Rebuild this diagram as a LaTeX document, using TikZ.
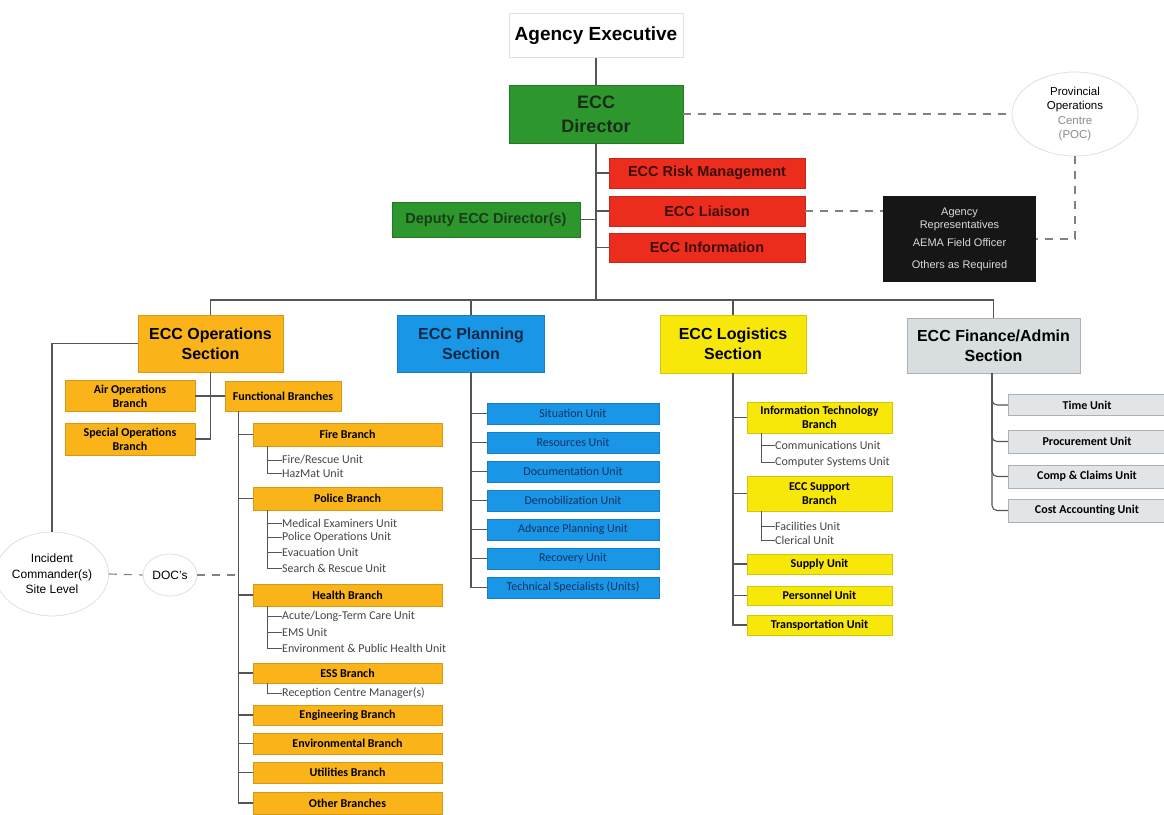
\documentclass[tikz,border=0pt]{standalone}
\usepackage{fontspec}
\setmainfont{Liberation Sans}
\newfontfamily\calfont{Carlito}
\usetikzlibrary{shapes.geometric}
\definecolor{cgreen}{RGB}{45,150,45}
\definecolor{cred}{RGB}{236,45,30}
\definecolor{corange}{RGB}{250,180,25}
\definecolor{cblue}{RGB}{25,150,230}
\definecolor{cyellow}{RGB}{248,232,10}
\definecolor{cgray}{RGB}{216,221,224}
\definecolor{cgraylt}{RGB}{226,229,231}
\definecolor{cblack}{RGB}{22,22,22}
\definecolor{linegray}{RGB}{85,85,85}
\definecolor{subtext}{RGB}{70,70,70}
\definecolor{navy}{RGB}{20,50,100}
\newcommand\fsz[2]{\fontsize{#1}{#2}\selectfont}
\begin{document}
\begin{tikzpicture}[x=1pt,y=-1pt,
  box/.style={rectangle,inner sep=0pt,align=center,text=black},
  ogbox/.style={box,fill=corange,draw=corange!85!black,line width=0.4pt,font=\calfont\bfseries\fsz{12}{14}},
  bluebox/.style={box,fill=cblue,draw=cblue!85!black,line width=0.4pt,text=navy,font=\calfont\fsz{12}{14}},
  ylbox/.style={box,fill=cyellow,draw=cyellow!85!black,line width=0.4pt,font=\calfont\bfseries\fsz{12}{14}},
  gybox/.style={box,fill=cgraylt,draw=cgray!80!black,line width=0.4pt,font=\calfont\bfseries\fsz{12}{14}},
  subitem/.style={anchor=west,inner sep=0pt,text=subtext,font=\calfont\fsz{12}{14}},
  conn/.style={draw=linegray,line width=1.1pt},
  dashconn/.style={draw=gray,line width=1.1pt,dash pattern=on 8pt off 7pt},
  bubble/.style={ellipse,draw=black!12,line width=0.8pt,inner sep=0pt,align=center,font=\fsz{11.5}{14.5}}
]
\useasboundingbox (0,0) rectangle (1164,814);
\fill[white] (0,0) rectangle (1164,814);

% top
\node[box,draw=black!12,fill=white,minimum width=174pt,minimum height=44pt,font=\bfseries\fsz{19}{22}] (ae) at (596,35.5) {Agency Executive};
\node[box,fill=cgreen,draw=cgreen!80!black,minimum width=174pt,minimum height=58pt,text={rgb,255:red,25;green,45;blue,25},font=\bfseries\fsz{18}{24}] (dir) at (596,114) {ECC\\Director};
\node[box,fill=cred,draw=cred!85!black,minimum width=196pt,minimum height=30pt,text={rgb,255:red,60;green,15;blue,10},font=\bfseries\fsz{14.5}{16}] (risk) at (707,173) {ECC Risk Management};
\node[box,fill=cred,draw=cred!85!black,minimum width=196pt,minimum height=30pt,text={rgb,255:red,60;green,15;blue,10},font=\bfseries\fsz{14.5}{16}] (liaison) at (707,211) {ECC Liaison};
\node[box,fill=cred,draw=cred!85!black,minimum width=196pt,minimum height=29pt,text={rgb,255:red,60;green,15;blue,10},font=\bfseries\fsz{14.5}{16}] (info) at (707,247.5) {ECC Information};
\node[box,fill=cgreen,draw=cgreen!80!black,minimum width=188pt,minimum height=35pt,text={rgb,255:red,25;green,60;blue,25},font=\bfseries\fsz{14.5}{16}] (deputy) at (486,219.5) {Deputy ECC Director(s)};
\node[bubble,minimum width=126pt,minimum height=84pt] (poc) at (1075,114) {Provincial\\Operations\\\textcolor{black!45}{Centre}\\\textcolor{black!45}{(POC)}};
\node[box,fill=cblack,minimum width=153pt,minimum height=86pt,text=black!15,font=\fsz{11}{13}] (black) at (959.5,239) {Agency\\Representatives\\[5pt]AEMA Field Officer\\[9pt]Others as Required};

\draw[conn] (ae.south) -- (dir.north);
\coordinate (barc) at (596,300);
\draw[conn] (dir.south) -- (barc);
\draw[conn] (risk.west) -- (risk.west -| dir.south);
\draw[conn] (liaison.west) -- (liaison.west -| dir.south);
\draw[conn] (info.west) -- (info.west -| dir.south);
\draw[conn] (deputy.east) -- (deputy.east -| dir.south);
\draw[dashconn] (dir.east) -- (poc.west);
\draw[dashconn] (poc.south) |- (black.east);
\draw[dashconn] (liaison.east) -- (liaison.east -| black.west);

% sections
\node[box,fill=corange,draw=corange!85!black,minimum width=145pt,minimum height=57pt,font=\bfseries\fsz{16}{20}] (ops) at (210.5,343.5) {ECC Operations\\Section};
\node[box,fill=cblue,draw=cblue!85!black,minimum width=147pt,minimum height=57pt,text={rgb,255:red,15;green,40;blue,70},font=\bfseries\fsz{16}{20}] (plan) at (471,343.5) {ECC Planning\\Section};
\node[box,fill=cyellow,draw=cyellow!85!black,minimum width=146pt,minimum height=58pt,font=\bfseries\fsz{16}{20}] (log) at (733,344) {ECC Logistics\\Section};
\node[box,fill=cgray,draw=cgray!80!black,minimum width=173pt,minimum height=55pt,font=\bfseries\fsz{16}{20}] (fin) at (993.5,345.5) {ECC Finance/Admin\\Section};
\draw[conn] (ops.north) |- (barc) -| (fin.north);
\draw[conn] (plan.north) -- (plan.north |- barc);
\draw[conn] (log.north) -- (log.north |- barc);

% operations
\node[ogbox,minimum width=130pt,minimum height=31pt] (air) at (130,396) {Air Operations\\Branch};
\node[ogbox,minimum width=130pt,minimum height=32pt] (special) at (130,439) {Special Operations\\Branch};
\node[ogbox,minimum width=116pt,minimum height=30pt] (func) at (283,396) {Functional Branches};
\draw[conn] (ops.south) |- (special.east);
\draw[conn] (air.east) -- (func.west);
\node[bubble,minimum width=104pt,minimum height=84pt,font=\fsz{12}{15.5}] (ic) at (52,574) {Incident\\Commander(s)\\Site Level};
\node[bubble,minimum width=54pt,minimum height=42pt,font=\fsz{12}{14}] (doc) at (170,575) {DOC's};
\draw[conn] (ops.west) -| (ic.north);

\node[ogbox,minimum width=189pt,minimum height=23pt] (fire) at (347.5,434.5) {Fire Branch};
\node[ogbox,minimum width=189pt,minimum height=23pt] (police) at (347.5,498.5) {Police Branch};
\node[ogbox,minimum width=189pt,minimum height=22pt] (health) at (347.5,595) {Health Branch};
\node[ogbox,minimum width=189pt,minimum height=20pt] (ess) at (347.5,673) {ESS Branch};
\node[ogbox,minimum width=189pt,minimum height=20pt] (eng) at (347.5,715) {Engineering Branch};
\node[ogbox,minimum width=189pt,minimum height=21pt] (envb) at (347.5,743.5) {Environmental Branch};
\node[ogbox,minimum width=189pt,minimum height=21pt] (util) at (347.5,772.5) {Utilities Branch};
\node[ogbox,minimum width=189pt,minimum height=22pt] (other) at (347.5,803) {Other Branches};
\draw[conn] ([xshift=14pt]func.south west) coordinate (fv) |- (other.west);
\foreach \n in {fire,police,health,ess,eng,envb,util}
  \draw[conn] (\n.west) -- (\n.west -| fv);
\draw[dashconn] (ic.east) -- (doc.west);
\draw[dashconn] (doc.east) -- (doc.east -| fv);

\node[subitem] (fr) at (282,460) {Fire/Rescue Unit};
\node[subitem] (hz) at (282,473) {HazMat Unit};
\node[subitem] (me) at (282,523) {Medical Examiners Unit};
\node[subitem] (po) at (282,537.5) {Police Operations Unit};
\node[subitem] (ev) at (282,552) {Evacuation Unit};
\node[subitem] (sr) at (282,568) {Search \& Rescue Unit};
\node[subitem] (ac) at (282,616) {Acute/Long-Term Care Unit};
\node[subitem] (ems) at (282,632.5) {EMS Unit};
\node[subitem] (eph) at (282,648) {Environment \& Public Health Unit};
\node[subitem] (rc) at (282,693) {Reception Centre Manager(s)};
\draw[conn,line width=0.8pt] ([xshift=15pt]fire.south west) coordinate (fsv) |- (hz.west);
\draw[conn,line width=0.8pt] (fr.west) -- (fr.west -| fsv);
\draw[conn,line width=0.8pt] ([xshift=15pt]police.south west) coordinate (psv) |- (sr.west);
\foreach \n in {me,po,ev}
  \draw[conn,line width=0.8pt] (\n.west) -- (\n.west -| psv);
\draw[conn,line width=0.8pt] ([xshift=15pt]health.south west) coordinate (hsv) |- (eph.west);
\foreach \n in {ac,ems}
  \draw[conn,line width=0.8pt] (\n.west) -- (\n.west -| hsv);
\draw[conn,line width=0.8pt] ([xshift=15pt]ess.south west) |- (rc.west);

% planning
\node[bluebox,minimum width=172pt,minimum height=21pt] (sit) at (573,413.5) {Situation Unit};
\node[bluebox,minimum width=172pt,minimum height=21pt] (res) at (573,442.5) {Resources Unit};
\node[bluebox,minimum width=172pt,minimum height=21pt] (docu) at (573,471.5) {Documentation Unit};
\node[bluebox,minimum width=172pt,minimum height=21pt] (demob) at (573,500.5) {Demobilization Unit};
\node[bluebox,minimum width=172pt,minimum height=21pt] (adv) at (573,529.5) {Advance Planning Unit};
\node[bluebox,minimum width=172pt,minimum height=21pt] (rec) at (573,558.5) {Recovery Unit};
\node[bluebox,minimum width=172pt,minimum height=21pt] (tech) at (573,587.5) {Technical Specialists (Units)};
\draw[conn] (plan.south) |- (tech.west);
\foreach \n in {sit,res,docu,demob,adv,rec}
  \draw[conn] (\n.west) -- (\n.west -| plan.south);

% logistics
\node[ylbox,minimum width=145pt,minimum height=31pt] (it) at (819.5,417.5) {Information Technology\\Branch};
\node[ylbox,minimum width=145pt,minimum height=35pt] (sup) at (819.5,493.5) {ECC Support\\Branch};
\node[ylbox,minimum width=145pt,minimum height=20pt] (supply) at (819.5,564) {Supply Unit};
\node[ylbox,minimum width=145pt,minimum height=19pt] (pers) at (819.5,595.5) {Personnel Unit};
\node[ylbox,minimum width=145pt,minimum height=20pt] (trans) at (819.5,625) {Transportation Unit};
\draw[conn] (log.south) |- (trans.west);
\foreach \n in {it,sup,supply,pers}
  \draw[conn] (\n.west) -- (\n.west -| log.south);
\node[subitem] (com) at (775,445) {Communications Unit};
\node[subitem] (cs) at (775,462) {Computer Systems Unit};
\node[subitem] (fac) at (775,526) {Facilities Unit};
\node[subitem] (cler) at (775,540) {Clerical Unit};
\draw[conn,line width=0.8pt] ([xshift=15pt]it.south west) coordinate (isv) |- (cs.west);
\draw[conn,line width=0.8pt] (com.west) -- (com.west -| isv);
\draw[conn,line width=0.8pt] ([xshift=15pt]sup.south west) coordinate (ssv) |- (cler.west);
\draw[conn,line width=0.8pt] (fac.west) -- (fac.west -| ssv);

% finance
\node[gybox,minimum width=158pt,minimum height=21pt] (time) at (1087,405) {Time Unit};
\node[gybox,minimum width=158pt,minimum height=23pt] (proc) at (1087,441.5) {Procurement Unit};
\node[gybox,minimum width=158pt,minimum height=23pt] (comp) at (1087,476.5) {Comp \& Claims Unit};
\node[gybox,minimum width=158pt,minimum height=23pt] (cost) at (1087,510.5) {Cost Accounting Unit};
\foreach \n in {time,proc,comp,cost}
  \draw[conn,rounded corners=5pt] ([xshift=-1.5pt]fin.south) |- (\n.west);
\end{tikzpicture}
\end{document}
